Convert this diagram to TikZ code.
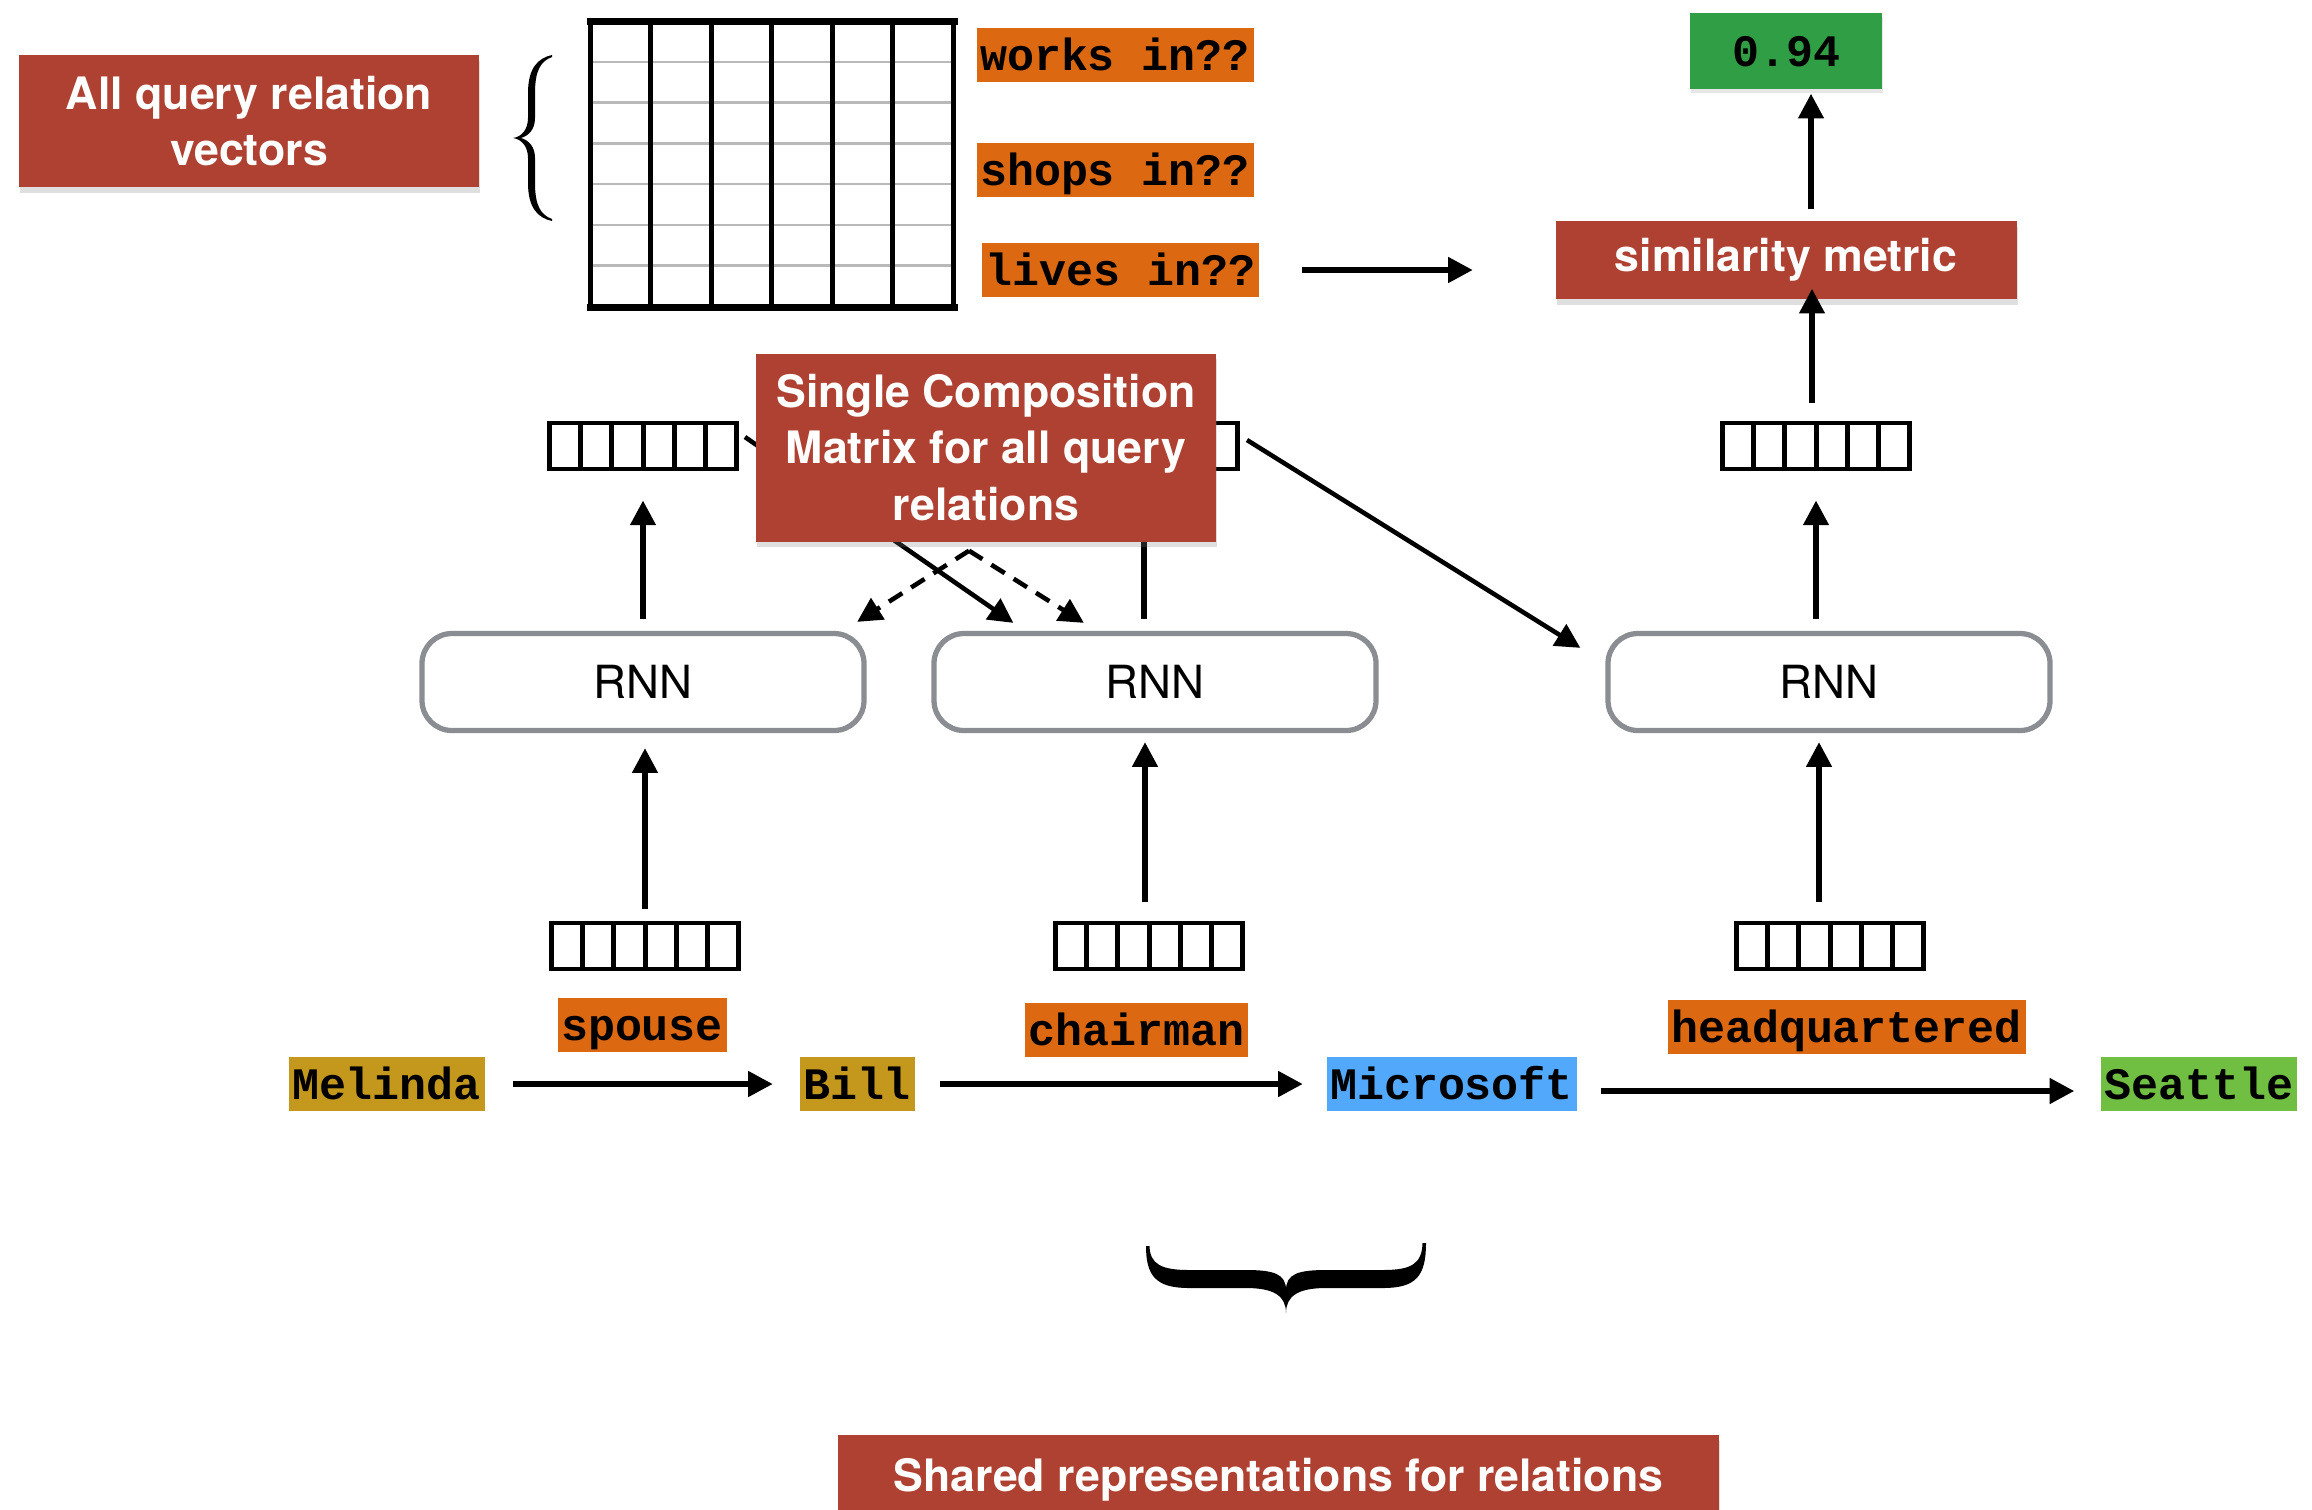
\documentclass[tikz,border=0pt]{standalone}
\usepackage{fontspec}
\setsansfont{TeX Gyre Heros}
\setmonofont{Liberation Mono}
\usetikzlibrary{arrows.meta, calc, shadows}

\definecolor{brick}{RGB}{175, 65, 50}
\definecolor{tagorange}{RGB}{221, 104, 18}
\definecolor{scoregreen}{RGB}{48, 158, 68}
\definecolor{entgold}{RGB}{196, 152, 28}
\definecolor{entblue}{RGB}{82, 168, 250}
\definecolor{entlime}{RGB}{112, 190, 66}
\definecolor{rnngray}{RGB}{138, 141, 145}

\tikzset{
  redbox/.style={fill=brick, text=white, align=center, inner sep=0pt,
    font=\sffamily\bfseries\fontsize{12.7}{16}\selectfont,
    drop shadow={opacity=0.25, shadow xshift=0.4pt, shadow yshift=-1.6pt}},
  tagbox/.style={fill=tagorange, inner xsep=1pt, inner ysep=0pt, minimum height=0.54cm,
    text height=10.6pt, text depth=1.9pt, font=\ttfamily\bfseries\fontsize{12.8}{15}\selectfont},
  rnnbox/.style={draw=rnngray, line width=1.5pt, rounded corners=0.3cm, minimum width=4.42cm,
    minimum height=0.97cm, font=\sffamily\fontsize{13}{16}\selectfont},
  vecbox/.style={draw, line width=1.4pt, minimum width=1.87cm, minimum height=0.46cm, inner sep=0pt,
    path picture={\foreach \k in {1,...,5}
      \draw[line width=1.4pt] ([xshift=\k*0.312cm]path picture bounding box.north west) -- ([xshift=\k*0.312cm]path picture bounding box.south west);}},
  arr/.style={-{Triangle[length=7pt, width=7pt]}, line width=1.5pt},
  dasharr/.style={arr, line width=1.3pt, dash pattern=on 4.5pt off 3pt},
}

\begin{document}
\begin{tikzpicture}
  \useasboundingbox (0,0) rectangle (23.12,-15.09);

  % Query relations
  \node[redbox, minimum width=4.60cm, minimum height=1.32cm] (allq) at (2.49,-1.21) {All query relation\\vectors};

  \coordinate (qbrace) at (5.33,-1.38);
  \fill[shift={(qbrace)}] (0.19,0.83) .. controls (0.05,0.80) and (-0.05,0.70) .. (-0.05,0.45)
    -- (-0.05,0.20) .. controls (-0.05,0.08) and (-0.12,0.01) .. (-0.20,0)
    .. controls (-0.12,-0.01) and (-0.05,-0.08) .. (-0.05,-0.20)
    -- (-0.05,-0.45) .. controls (-0.05,-0.70) and (0.05,-0.80) .. (0.19,-0.83)
    -- (0.19,-0.81) .. controls (0.08,-0.77) and (0.02,-0.68) .. (0.02,-0.45)
    -- (0.02,-0.20) .. controls (0.02,-0.08) and (-0.05,-0.02) .. (-0.12,0)
    .. controls (-0.05,0.02) and (0.02,0.08) .. (0.02,0.20)
    -- (0.02,0.45) .. controls (0.02,0.68) and (0.08,0.77) .. (0.19,0.81) -- cycle;

  \node[minimum width=3.63cm, minimum height=2.85cm, inner sep=0pt] (qmat) at (7.725,-1.645) {};
  \foreach \r in {1,...,6}
    \draw[gray!55, line width=0.7pt] ($(qmat.north west)+(0,-\r*0.407)$) -- ++(3.63,0);
  \foreach \c in {0,...,6}
    \draw[line width=1.5pt] ($(qmat.north west)+(\c*0.605,0)$) -- ++(0,-2.85);
  \draw[line width=1.9pt, line cap=rect] (qmat.north west) -- (qmat.north east) (qmat.south west) -- (qmat.south east);

  \node[tagbox] (works) at (11.15,-0.55) {works in??};
  \node[tagbox] (shops) at (11.15,-1.70) {shops in??};
  \node[tagbox] (lives) at (11.205,-2.70) {lives in??};

  % Scoring
  \node[redbox, minimum width=4.61cm, minimum height=0.78cm] (sim) at (17.86,-2.60) {similarity metric};
  \node[tagbox, fill=scoregreen, minimum width=1.92cm, minimum height=0.76cm,
    drop shadow={opacity=0.2, shadow xshift=0.4pt, shadow yshift=-1.2pt}] (score) at (17.86,-0.51) {0.94};

  \draw[arr, line width=1.6pt, shorten <=0.42cm, shorten >=0.82cm] (lives.east) -- (lives.east -| sim.west);
  \draw[arr, shorten <=0.11cm, shorten >=0.04cm] ([xshift=0.25cm]sim.north) -- ([xshift=0.25cm]score.south);

  % Path vectors and RNN cells
  \node[vecbox] (lvec) at (6.43,-4.46) {};
  \node[vecbox] (mvec) at (11.44,-4.46) {};
  \node[vecbox] (rvec) at (18.16,-4.46) {};

  \node[rnnbox] (lrnn) at (6.43,-6.82) {RNN};
  \node[rnnbox] (mrnn) at (11.55,-6.82) {RNN};
  \node[rnnbox] (rrnn) at (18.29,-6.82) {RNN};

  \node[vecbox] (lbv) at (6.45,-9.46) {};
  \node[vecbox] (mbv) at (11.49,-9.46) {};
  \node[vecbox] (rbv) at (18.30,-9.46) {};

  \draw[arr, shorten <=0.18cm, shorten >=-0.11cm] ([xshift=-0.04cm]rvec.north) -- ([xshift=-0.04cm]rvec.north |- sim.south);

  \draw[arr, shorten <=0.12cm, shorten >=0.29cm] (lrnn.north) -- (lvec.south);
  \draw[arr, shorten <=0.12cm, shorten >=0.29cm] (mvec.south |- mrnn.north) -- (mvec.south);
  \draw[arr, shorten <=0.12cm, shorten >=0.29cm] (rvec.south |- rrnn.north) -- (rvec.south);

  \draw[arr, shorten <=0.12cm, shorten >=0.15cm] (lbv.north) -- (lbv.north |- lrnn.south);
  \draw[arr, shorten <=0.19cm, shorten >=0.09cm] ([xshift=-0.04cm]mbv.north) -- ([xshift=-0.04cm]mbv.north |- mrnn.south);
  \draw[arr, shorten <=0.19cm, shorten >=0.09cm] ([xshift=-0.11cm]rbv.north) -- ([xshift=-0.11cm]rbv.north |- rrnn.south);

  % Composition
  \draw[arr, line width=1.3pt] ([xshift=0.06cm, yshift=0.09cm]lvec.east) -- ([xshift=0.82cm, yshift=0.08cm]mrnn.north west);
  \draw[arr, line width=1.3pt] ([xshift=0.07cm, yshift=0.06cm]mvec.east) -- ([xshift=-0.25cm, yshift=-0.17cm]rrnn.north west);

  \node[redbox, minimum width=4.60cm, minimum height=1.88cm] (comp) at (9.86,-4.475) {Single Composition\\Matrix for all query\\relations};

  \coordinate (fork) at ([xshift=-0.17cm, yshift=-0.085cm]comp.south);
  \draw[dasharr] (fork) -- ([xshift=-0.095cm, yshift=0.09cm]lrnn.north east);
  \draw[dasharr] (fork) -- ([xshift=1.525cm, yshift=0.08cm]mrnn.north west);

  % Relation labels and entities
  \node[tagbox] (spouse) at (6.42,-10.25) {spouse};
  \node[tagbox] (chair) at (11.365,-10.30) {chairman};
  \node[tagbox] (hq) at (18.465,-10.27) {headquartered};

  \node[tagbox, fill=entgold] (melinda) at (3.865,-10.84) {Melinda};
  \node[tagbox, fill=entgold] (bill) at (8.57,-10.84) {Bill};
  \node[tagbox, fill=entblue] (msft) at (14.515,-10.84) {Microsoft};
  \node[tagbox, fill=entlime] (seattle) at (21.99,-10.84) {Seattle};

  \draw[arr, line width=1.6pt, shorten <=0.28cm, shorten >=0.26cm] (melinda) -- (bill);
  \draw[arr, line width=1.6pt, shorten <=0.25cm, shorten >=0.23cm] (bill) -- (msft);
  \draw[arr, line width=1.6pt, shorten <=0.24cm, shorten >=0.26cm] ([yshift=-0.07cm]msft.east) -- ([yshift=-0.07cm]seattle.west);

  % Shared representations
  \coordinate (ubrace) at (12.86,-12.76);
  \fill[shift={(ubrace)}] (-1.40,0.30) .. controls (-1.40,0.00) and (-1.30,-0.12) .. (-0.97,-0.12)
    -- (-0.40,-0.12) .. controls (-0.12,-0.12) and (0,-0.20) .. (0,-0.37)
    .. controls (0,-0.20) and (0.12,-0.12) .. (0.40,-0.12)
    -- (0.97,-0.12) .. controls (1.30,-0.12) and (1.40,0.00) .. (1.40,0.33)
    -- (1.365,0.33) .. controls (1.36,0.12) and (1.25,0.06) .. (0.97,0.06)
    -- (0.40,0.06) .. controls (0.12,0.06) and (0,0.02) .. (0,-0.14)
    .. controls (0,0.02) and (-0.12,0.06) .. (-0.40,0.06)
    -- (-0.97,0.06) .. controls (-1.25,0.06) and (-1.36,0.12) .. (-1.365,0.30) -- cycle;

  \node[redbox, minimum width=8.81cm, minimum height=0.90cm] (shared) at (12.785,-14.80) {Shared representations for relations};
\end{tikzpicture}
\end{document}
